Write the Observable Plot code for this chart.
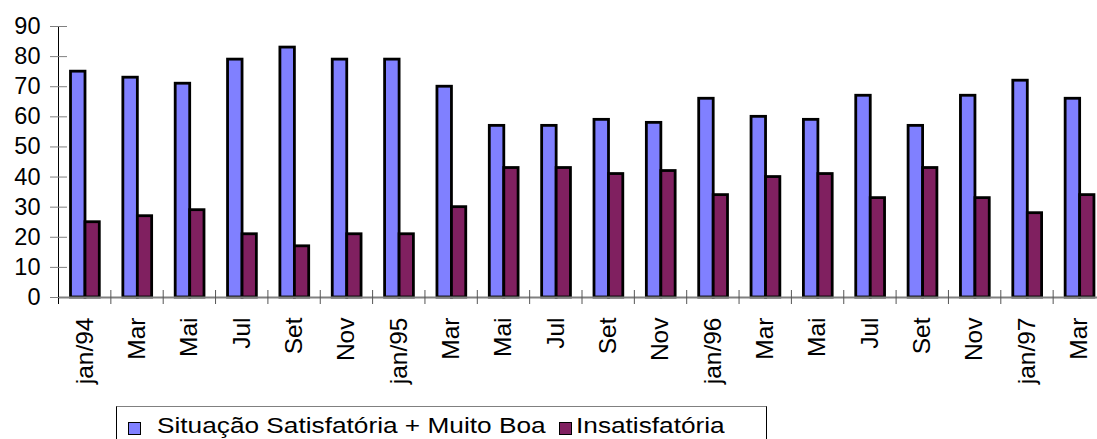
<!DOCTYPE html>
<html>
<head>
<meta charset="utf-8">
<script src="https://cdn.jsdelivr.net/npm/d3@7"></script>
<script src="https://cdn.jsdelivr.net/npm/@observablehq/plot@0.6"></script>
<style>
  html, body { margin: 0; padding: 0; background: white; }
  #wrap { position: relative; width: 1097px; height: 439px; overflow: hidden; font-family: "Liberation Sans", Arial, sans-serif; }
  #chart { position: absolute; left: 0; top: 0; }
  #legend { position: absolute; left: 116px; top: 406px; width: 651px; height: 50px; border: 1px solid #000; border-top-color: #808080; box-sizing: border-box; white-space: nowrap; }
  .sw { position: absolute; top: 15px; width: 11px; height: 11px; border: 1.5px solid #000; box-sizing: content-box; }
  .lt { position: absolute; top: 6px; line-height: 26px; font-size: 21.5px; color: #000; transform: scaleX(1.22); transform-origin: 0 50%; }
</style>
</head>
<body>
<div id="wrap">
  <div id="chart"></div>
  <div id="legend"></div>
</div>
<script>
const months = ["jan/94","Mar","Mai","Jul","Set","Nov","jan/95","Mar","Mai","Jul","Set","Nov","jan/96","Mar","Mai","Jul","Set","Nov","jan/97","Mar"];
const satisfatoria = [75,73,71,79,83,79,79,70,57,57,59,58,66,60,59,67,57,67,72,66];
const insatisfatoria = [25,27,29,21,17,21,21,30,43,43,41,42,34,40,41,33,43,33,28,34];
const yTicks = [0,10,20,30,40,50,60,70,80,90];
const seriesNames = ["Situação Satisfatória + Muito Boa", "Insatisfatória"];
const colors = ["#8080FF", "#802060"];

const idx = d3.range(months.length);
const W = 1097, H = 412, ML = 58, MT = 26, MB = 115, XR = 1105;
const step = (XR - ML) / months.length;

const chart = Plot.plot({
  width: W, height: H,
  marginLeft: ML, marginRight: 0, marginTop: MT, marginBottom: MB,
  style: { fontFamily: "'Liberation Sans', Arial, sans-serif", background: "white", color: "black", overflow: "hidden" },
  x: { type: "band", domain: idx, range: [ML, XR], padding: 0, round: false },
  y: { domain: [0, 90] },
  marks: [
    Plot.barY(idx, { x: d => d, y: i => satisfatoria[i], fill: colors[0], stroke: "black", strokeWidth: 2.8, insetLeft: 12.5, insetRight: step - 27 }),
    Plot.barY(idx, { x: d => d, y: i => insatisfatoria[i], fill: colors[1], stroke: "black", strokeWidth: 2.8, insetLeft: 27, insetRight: step - 41.3 }),
    Plot.ruleY([0], { y: d => d, stroke: "#808080", strokeWidth: 1.8 }),
    Plot.ruleX(idx, { x: d => d, dx: -step / 2, y1: 0, y2: 0, insetTop: -7, insetBottom: -7, stroke: "#555" }),
    Plot.ruleX([0], { x: d => d, dx: -step / 2, y1: 90, y2: 0, insetBottom: -7, stroke: "black" }),
    Plot.ruleY(yTicks, { y: d => d, insetLeft: -8, insetRight: W - ML - 9, stroke: "#808080" }),
    Plot.axisY({ ticks: yTicks, tickSize: 0, tickPadding: 18, fontSize: 23.5, tickFormat: d => d, label: null }),
    Plot.axisX({ tickSize: 0, tickRotate: -90, tickPadding: 20, fontSize: 24.5, label: null, tickFormat: i => months[i] })
  ]
});
document.getElementById("chart").appendChild(chart);

const legend = document.getElementById("legend");
const items = [
  { sw: 11, tx: 40, i: 0 },
  { sw: 442, tx: 459, i: 1 }
];
for (const it of items) {
  const s = document.createElement("div");
  s.className = "sw";
  s.style.left = it.sw + "px";
  s.style.background = colors[it.i];
  legend.appendChild(s);
  const t = document.createElement("div");
  t.className = "lt";
  t.style.left = it.tx + "px";
  t.textContent = seriesNames[it.i];
  legend.appendChild(t);
}
</script>
</body>
</html>
